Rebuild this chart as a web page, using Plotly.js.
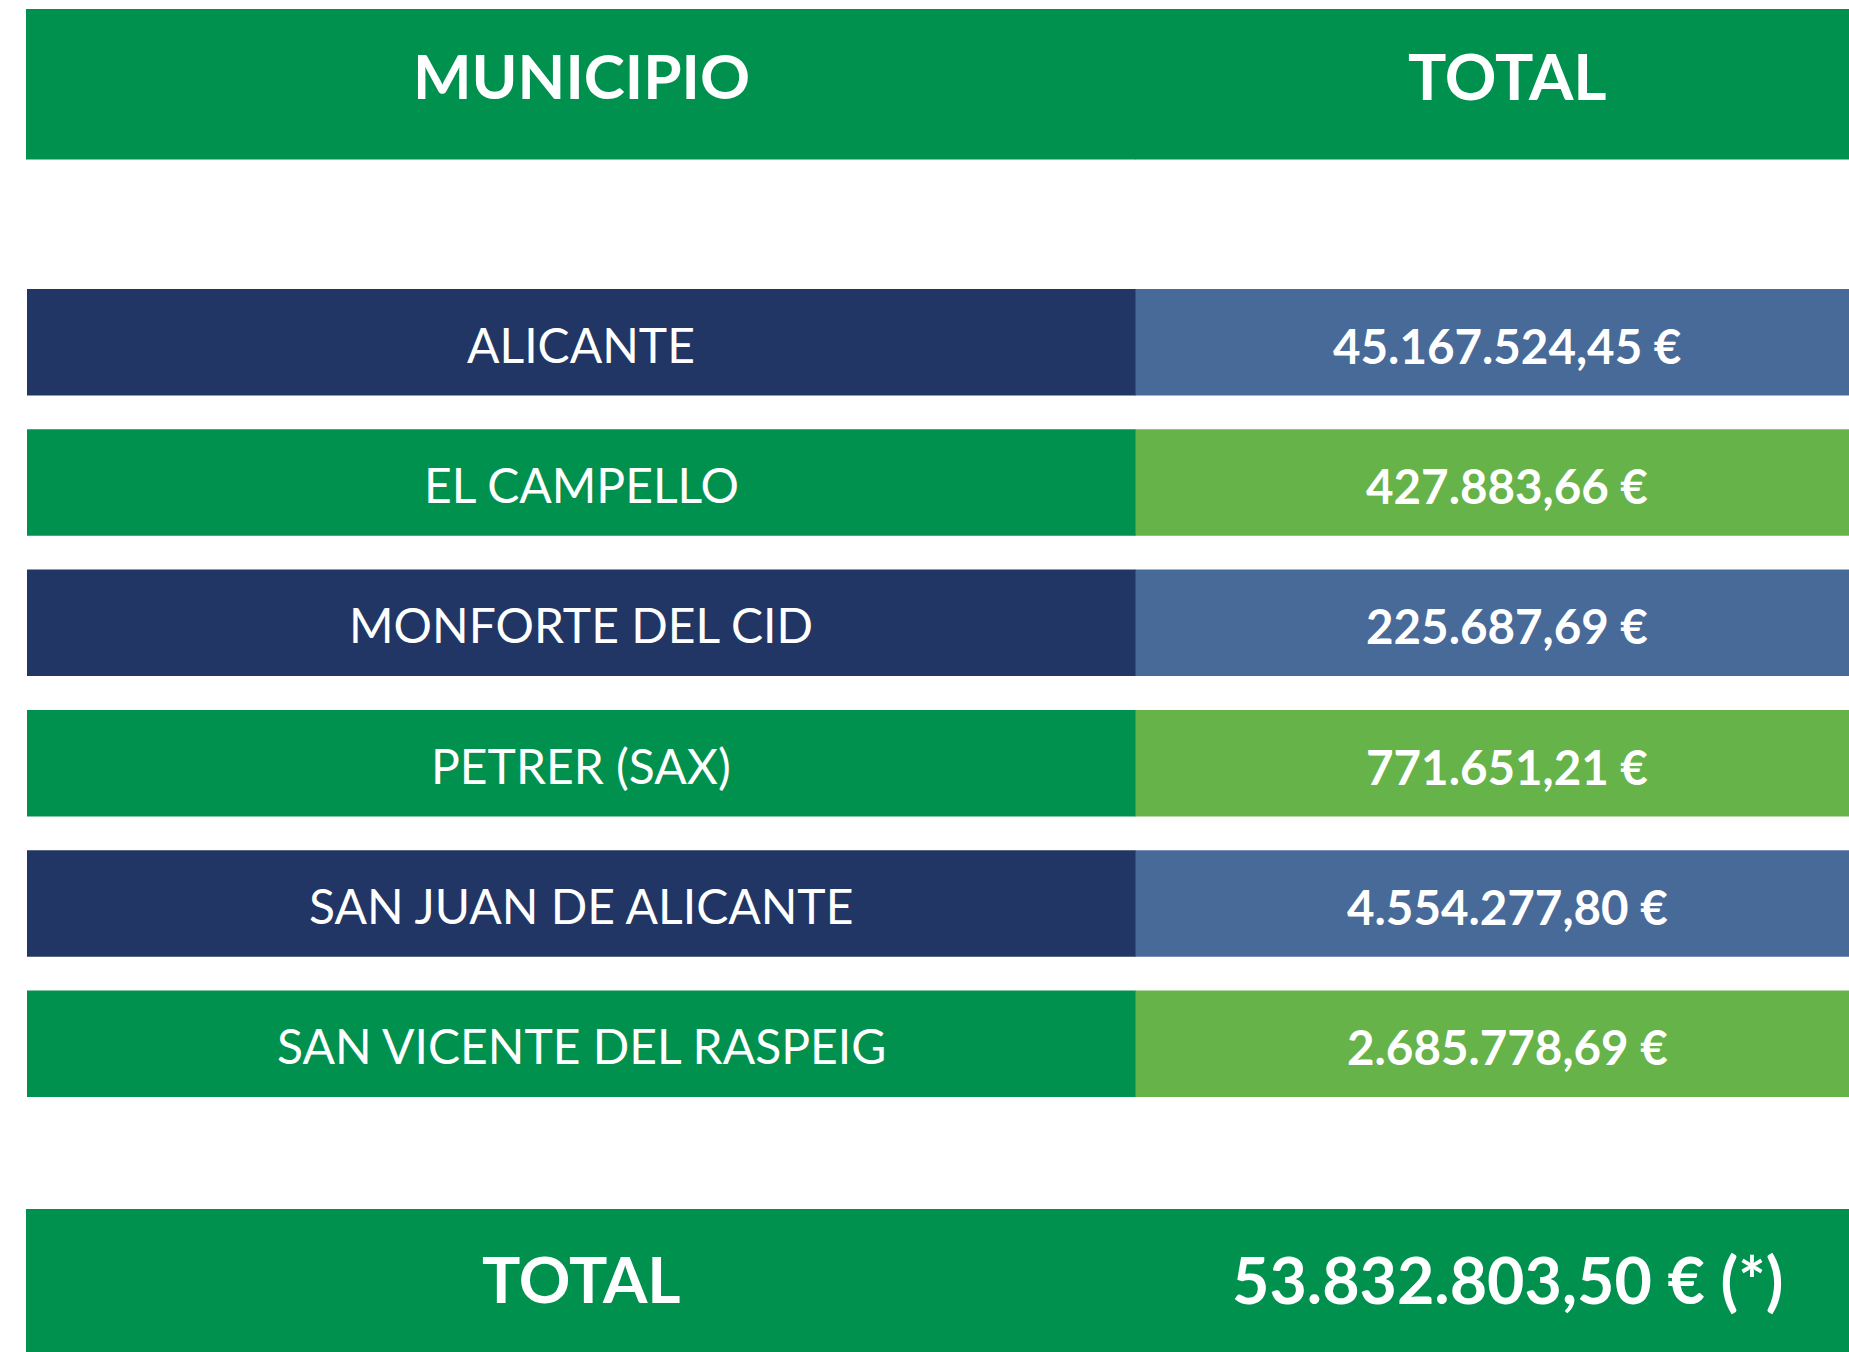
<!DOCTYPE html>
<html><head><meta charset="utf-8">
<script src="https://cdn.plot.ly/plotly-3.0.1.min.js"></script>
<style>html,body{margin:0;padding:0;background:#fff;overflow:hidden;}</style>
</head><body><div id="chart" style="width:1849px;height:1352px;"></div>
<script>
// ---- data ----
const headerLabels = ['MUNICIPIO', 'TOTAL'];
const municipios = ['ALICANTE', 'EL CAMPELLO', 'MONFORTE DEL CID', 'PETRER (SAX)', 'SAN JUAN DE ALICANTE', 'SAN VICENTE DEL RASPEIG'];
const totales = [45167524.45, 427883.66, 225687.69, 771651.21, 4554277.80, 2685778.69];
const totalLabel = 'TOTAL';
const totalGeneral = 53832803.50;
const totalNote = '(*)';

// ---- helpers ----
function fmtEUR(v) {
  const parts = v.toFixed(2).split('.');
  const ent = parts[0].replace(/\B(?=(\d{3})+(?!\d))/g, '.');
  return ent + ',' + parts[1] + ' €';
}

// ---- layout constants ----
const W = 1849, H = 1352;
const colL = 26, rowL = 27, colSplit = 1136, colR = W;
const leftTextX = (colL + colSplit) / 2;
const rightTextX = 1507;
const headerTop = 9, headerBottom = 159.5;
const rowTop0 = 289, rowPitch = 140.3, rowH = 106.5;
const totalTop = 1209, totalBottom = 1352;

const C_GREEN = '#00914F', C_NAVY = '#213664', C_STEEL = '#486A99', C_LGREEN = '#66B34A';

const ys = [], hs = [], lefts = [], leftColors = [], rightColors = [];
ys.push((headerTop + headerBottom) / 2); hs.push(headerBottom - headerTop); lefts.push(colL);
leftColors.push(C_GREEN); rightColors.push(C_GREEN);
municipios.forEach((m, i) => {
  const top = rowTop0 + i * rowPitch;
  ys.push(top + rowH / 2); hs.push(rowH); lefts.push(rowL);
  leftColors.push(i % 2 === 0 ? C_NAVY : C_GREEN);
  rightColors.push(i % 2 === 0 ? C_STEEL : C_LGREEN);
});
ys.push((totalTop + totalBottom) / 2 + 1); hs.push(totalBottom - totalTop + 2); lefts.push(colL);
leftColors.push(C_GREEN); rightColors.push(C_GREEN);

const n = ys.length;
const traces = [
  { type: 'bar', orientation: 'h', y: ys, width: hs, base: lefts, x: lefts.map(l => colSplit - l),
    marker: { color: leftColors, line: { width: 0 } }, hoverinfo: 'skip', showlegend: false },
  { type: 'bar', orientation: 'h', y: ys, width: hs, base: Array(n).fill(colSplit - 0.5), x: Array(n).fill(colR - colSplit + 1),
    marker: { color: rightColors, line: { width: 0 } }, hoverinfo: 'skip', showlegend: false }
];

const ann = [];
const F = 'Lato, "Open Sans", sans-serif';
ann.push({ x: leftTextX, y: ys[0] - 9, text: '<b>' + headerLabels[0] + '</b>', font: { family: F, size: 62, color: '#fff' } });
ann.push({ x: rightTextX, y: ys[0] - 9, text: '<b>' + headerLabels[1] + '</b>', font: { family: F, size: 64, color: '#fff' } });
municipios.forEach((m, i) => {
  ann.push({ x: leftTextX, y: ys[i + 1] + 2, text: m, font: { family: F, size: 48, color: '#fff' } });
  ann.push({ x: rightTextX, y: ys[i + 1] + 3, text: '<b>' + fmtEUR(totales[i]) + '</b>', font: { family: F, size: 47.5, color: '#fff' } });
});
ann.push({ x: leftTextX, y: ys[n - 1] - 3, text: '<b>' + totalLabel + '</b>', font: { family: F, size: 64, color: '#fff' } });
ann.push({ x: rightTextX, y: ys[n - 1] - 3, text: '<b>' + fmtEUR(totalGeneral) + ' ' + totalNote + '</b>', font: { family: F, size: 64.5, color: '#fff' } });
ann.forEach(a => { a.xref = 'x'; a.yref = 'y'; a.showarrow = false; a.xanchor = 'center'; a.yanchor = 'middle'; });

const layout = {
  width: W, height: H,
  margin: { l: 0, r: 0, t: 0, b: 0, pad: 0 },
  paper_bgcolor: '#ffffff', plot_bgcolor: '#ffffff',
  barmode: 'overlay',
  xaxis: { range: [0, W], visible: false, fixedrange: true },
  yaxis: { range: [H, 0], visible: false, fixedrange: true },
  annotations: ann,
  showlegend: false
};
Plotly.newPlot('chart', traces, layout, { staticPlot: true, displayModeBar: false });
</script>
</body></html>
